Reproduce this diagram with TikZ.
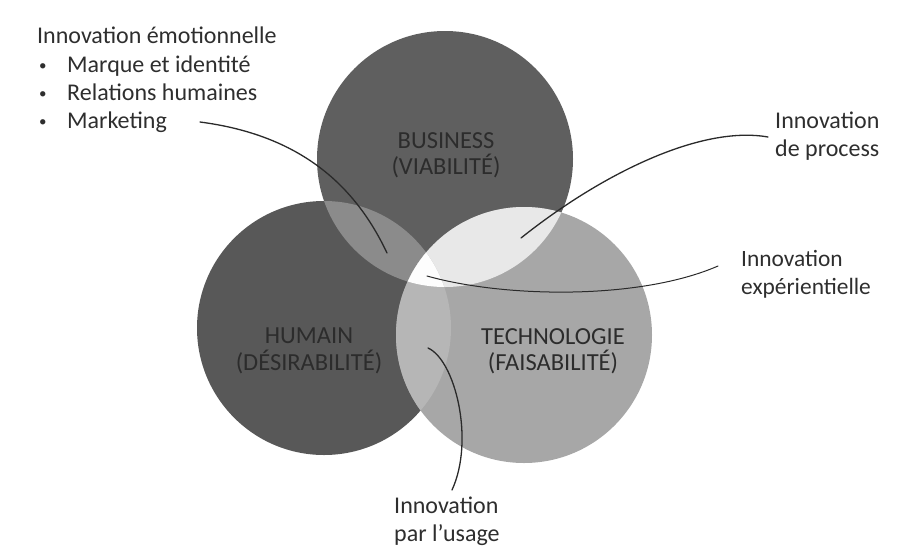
\documentclass[tikz,border=0pt]{standalone}
\usepackage{fontspec}
\setmainfont{Carlito}
\begin{document}
\begin{tikzpicture}[x=1pt,y=-1pt,
  lbl/.style={inner sep=0pt,anchor=north west,align=left,text=labeltxt,
    font=\fontsize{24}{28}\selectfont},
  circlbl/.style={inner sep=0pt,anchor=center,align=center,text=circtxt,
    font=\fontsize{24.5}{26.5}\selectfont},
  conn/.style={draw=connclr,line width=1.3pt,line cap=round}]
\definecolor{labeltxt}{HTML}{2E2E2E}
\definecolor{circtxt}{HTML}{2C2C2C}
\definecolor{connclr}{HTML}{2A2A2A}
\definecolor{bcol}{HTML}{5F5F5F}
\definecolor{hcol}{HTML}{585858}
\definecolor{tcol}{HTML}{A7A7A7}
\definecolor{bhcol}{HTML}{8B8B8B}
\definecolor{btcol}{HTML}{E8E8E8}
\definecolor{htcol}{HTML}{B6B6B6}
\definecolor{allcol}{HTML}{FDFDFD}
\newcommand{\mybul}{\makebox[30pt][l]{\hspace{2pt}\raisebox{2pt}{\fontsize{15}{15}\selectfont\textbullet}}}
\useasboundingbox (0,0) rectangle (922,558);
% circles
\def\bcirc{(445,159) circle[radius=128]}
\def\hcirc{(324,328) circle[radius=127]}
\def\tcirc{(524,335) circle[radius=128]}
\fill[hcol] \hcirc;
\fill[bcol] \bcirc;
\fill[tcol] \tcirc;
\begin{scope}\clip \bcirc; \fill[bhcol] \hcirc; \end{scope}
\begin{scope}\clip \bcirc; \fill[btcol] \tcirc; \end{scope}
\begin{scope}\clip \hcirc; \fill[htcol] \tcirc; \end{scope}
\begin{scope}\clip \bcirc; \clip \hcirc; \fill[allcol] \tcirc; \end{scope}
% circle labels
\node[circlbl] (biz) at (446,155) {BUSINESS\\(VIABILITÉ)};
\node[circlbl] (hum) at (309,351) {HUMAIN\\(DÉSIRABILITÉ)};
\node[circlbl] (tech) at (553,351) {TECHNOLOGIE\\(FAISABILITÉ)};
% outer labels
\node[lbl,font=\fontsize{24}{28.3}\selectfont] (emo) at (37,27) {Innovation émotionnelle\\
  \mybul Marque et identité\\
  \mybul Relations humaines\\
  \mybul Marketing};
\node[lbl] (proc) at (775,112) {Innovation\\de process};
\node[lbl,font=\fontsize{23.4}{28}\selectfont] (exp) at (741,250) {Innovation\\expérientielle};
\node[lbl] (usage) at (394,497) {Innovation\\par l’usage};
% connector ends
\coordinate (emoS) at (200,122);
\coordinate (emoE) at (387,253);
\coordinate (procS) at (768,137);
\coordinate (procE) at (521,238);
\coordinate (expS) at (718,266);
\coordinate (expE) at (427,276);
\coordinate (usS) at (452,490);
\coordinate (usE) at (428,348);
\draw[conn] (emoS) .. controls (300,135) and (355,185) .. (emoE);
\draw[conn] (procS) .. controls (700,125) and (600,175) .. (procE);
\draw[conn,line width=1pt] (expS) .. controls (640,300) and (505,298) .. (expE);
\draw[conn] (usS) .. controls (475,440) and (455,360) .. (usE);
\end{tikzpicture}
\end{document}
